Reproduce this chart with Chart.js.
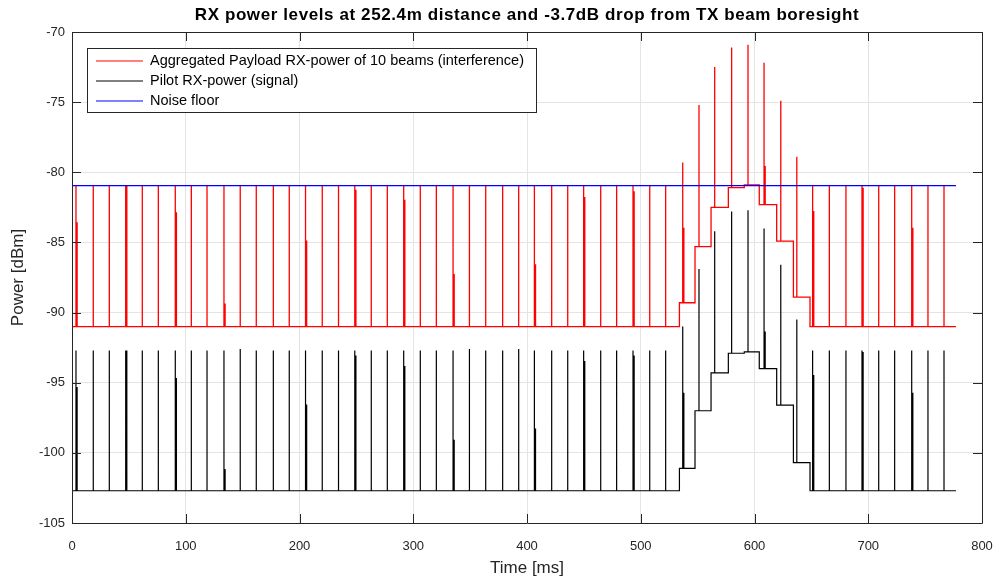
<!DOCTYPE html>
<html>
<head>
<meta charset="utf-8">
<title>RX power levels</title>
<script src="https://cdn.jsdelivr.net/npm/chart.js@4.4.1/dist/chart.umd.min.js"></script>
<style>
  html, body { margin: 0; padding: 0; background: #fff; }
  #wrap { width: 1000px; height: 579px; }
</style>
</head>
<body>
<div id="wrap"><canvas id="rx-chart" width="1000" height="579"></canvas></div>
<script>
/* RX power levels -- pilot vs aggregated payload vs noise floor */

// --- Data ---
// pulse times [ms], one per frame
const spikeTimes = [
  3.5, 18.7, 32.8, 47.2, 61.8, 75.9, 90.8, 104.9, 118.7, 133.6,
  147.9, 162.0, 177.0, 191.0, 205.3, 220.0, 234.3, 248.6, 263.1, 277.2,
  291.6, 306.2, 320.3, 335.0, 349.4, 363.7, 378.6, 392.7, 406.5, 421.7,
  435.8, 449.8, 464.8, 478.8, 493.2, 507.9, 521.9, 536.9, 551.2, 565.0,
  579.9, 594.3, 608.4, 623.1, 637.2, 651.1, 665.8, 680.4, 694.5, 709.2,
  723.2, 738.2, 752.5, 766.6
];
// pulse peaks [dBm]
const redPeaks = [
  -80.95, -80.95, -80.95, -80.95, -80.95, -80.95, -80.95, -80.95, -80.95, -80.95,
  -80.95, -80.95, -80.95, -80.95, -80.95, -80.95, -80.95, -80.95, -80.95, -80.95,
  -80.95, -80.95, -80.95, -80.95, -80.95, -80.95, -80.95, -80.95, -80.95, -80.95,
  -80.95, -80.95, -80.95, -80.95, -80.95, -80.95, -80.95, -79.3, -75.2, -72.5,
  -71.1, -70.9, -72.2, -74.9, -78.9, -80.95, -80.95, -80.95, -80.95, -80.95,
  -80.95, -80.95, -80.95, -80.95
];
const blackPeaks = [
  -92.7, -92.7, -92.7, -92.7, -92.7, -92.7, -92.7, -92.7, -92.7, -92.7,
  -92.6, -92.7, -92.7, -92.7, -92.7, -92.7, -92.7, -92.7, -92.7, -92.7,
  -92.7, -92.7, -92.7, -92.7, -92.6, -92.7, -92.7, -92.6, -92.7, -92.7,
  -92.7, -92.7, -92.7, -92.7, -92.7, -92.7, -92.7, -91.0, -86.9, -84.2,
  -82.8, -82.7, -84.0, -86.6, -90.5, -92.7, -92.7, -92.7, -92.7, -92.7,
  -92.7, -92.7, -92.7, -92.7
];
// doubled pulses (a second, lower pulse right after the main one)
const pairTimes = [3.5, 47.2, 90.8, 133.6, 205.3, 248.6, 291.6, 335.0, 406.5, 449.8, 493.2, 536.9, 608.4, 651.1, 694.5, 738.2];
const redPairLevels = [-83.6, -81.0, -82.9, -89.4, -84.9, -81.3, -82.0, -87.3, -86.6, -81.8, -81.4, -84.0, -79.6, -82.8, -81.15, -84.0];
const blackPairLevels = [-95.35, -92.75, -94.7, -101.2, -96.6, -93.1, -93.85, -99.1, -98.3, -93.5, -93.1, -95.75, -91.4, -94.5, -92.85, -95.75];
// baseline steps while the beam passes
const stepTimes = [0, 534.0, 547.7, 561.8, 577.0, 591.0, 604.2, 619.5, 634.2, 648.8];
const redBaseLevels = [-91.0, -89.3, -85.3, -82.5, -81.1, -80.9, -82.3, -84.9, -88.9, -91.0];
const blackBaseLevels = [-102.7, -101.1, -97.0, -94.3, -92.9, -92.8, -94.0, -96.6, -100.7, -102.7];
const endTime = 777.1;
// noise floor
const noiseTimes = [0, 777.1];
const noiseLevels = [-80.95, -80.95];
// axis ticks
const xTicks = [0, 100, 200, 300, 400, 500, 600, 700, 800];
const yTicks = [-105, -100, -95, -90, -85, -80, -75, -70];

const TITLE = 'RX power levels at 252.4m distance and -3.7dB drop from TX beam boresight';
const FONT = '"Liberation Sans", Arial, Helvetica, sans-serif';
const INK = '#262626';
const PAIR_WIDTH = 1.0; // ms

// --- Build step/pulse traces ---
function levelAt(t, levels) {
  let lv = levels[0];
  stepTimes.forEach((s, i) => { if (t >= s) lv = levels[i]; });
  return lv;
}

function buildTrace(peaks, pairLevels, baseLevels) {
  const events = [];
  stepTimes.forEach((s, i) => { if (i > 0) events.push({ t: s, step: i }); });
  spikeTimes.forEach((t, i) => events.push({ t, spike: i }));
  events.sort((a, b) => a.t - b.t);

  const pts = [{ x: 0, y: baseLevels[0] }];
  events.forEach(ev => {
    if (ev.step !== undefined) {
      pts.push({ x: ev.t, y: baseLevels[ev.step - 1] }, { x: ev.t, y: baseLevels[ev.step] });
      return;
    }
    const base = levelAt(ev.t, baseLevels);
    pts.push({ x: ev.t, y: base }, { x: ev.t, y: peaks[ev.spike] });
    const p = pairTimes.indexOf(ev.t);
    if (p >= 0) {
      pts.push({ x: ev.t, y: pairLevels[p] },
               { x: ev.t + PAIR_WIDTH, y: pairLevels[p] },
               { x: ev.t + PAIR_WIDTH, y: base });
    } else {
      pts.push({ x: ev.t, y: base });
    }
  });
  pts.push({ x: endTime, y: levelAt(endTime, baseLevels) });
  return pts;
}

// --- Plugins: title, axes box with inward ticks, legend box ---
const titlePlugin = {
  id: 'plotTitle',
  afterDraw(chart) {
    const { ctx, chartArea } = chart;
    ctx.save();
    ctx.fillStyle = '#000';
    ctx.font = 'bold 17px ' + FONT;
    ctx.letterSpacing = '0.6px';
    ctx.textAlign = 'center';
    ctx.textBaseline = 'middle';
    ctx.fillText(TITLE, (chartArea.left + chartArea.right) / 2, 15);
    ctx.restore();
  }
};

const framePlugin = {
  id: 'axesBox',
  afterDatasetsDraw(chart) {
    const { ctx, chartArea: a, scales } = chart;
    const len = 9;
    ctx.save();
    ctx.strokeStyle = INK;
    ctx.lineWidth = 1;
    ctx.beginPath();
    ctx.rect(Math.round(a.left) + 0.5, Math.round(a.top) + 0.5, Math.round(a.right - a.left), Math.round(a.bottom - a.top));
    xTicks.forEach(v => {
      const x = Math.round(scales.x.getPixelForValue(v)) + 0.5;
      ctx.moveTo(x, a.bottom); ctx.lineTo(x, a.bottom - len);
      ctx.moveTo(x, a.top); ctx.lineTo(x, a.top + len);
    });
    yTicks.forEach(v => {
      const y = Math.round(scales.y.getPixelForValue(v)) + 0.5;
      ctx.moveTo(a.left, y); ctx.lineTo(a.left + len, y);
      ctx.moveTo(a.right, y); ctx.lineTo(a.right - len, y);
    });
    ctx.stroke();
    ctx.restore();
  }
};

const legendPlugin = {
  id: 'boxLegend',
  afterDatasetsDraw(chart) {
    const { ctx } = chart;
    const box = { x: 87.5, y: 48.5, w: 449, h: 64 };
    ctx.save();
    ctx.fillStyle = '#fff';
    ctx.fillRect(box.x, box.y, box.w, box.h);
    ctx.strokeStyle = INK;
    ctx.lineWidth = 1;
    ctx.strokeRect(box.x, box.y, box.w, box.h);
    ctx.font = '14.5px ' + FONT;
    ctx.textBaseline = 'middle';
    ctx.textAlign = 'left';
    chart.data.datasets.forEach((ds, i) => {
      const y = 61 + i * 20;
      ctx.strokeStyle = ds.borderColor;
      ctx.lineWidth = 1;
      ctx.beginPath();
      ctx.moveTo(96, y); ctx.lineTo(143, y);
      ctx.stroke();
      ctx.fillStyle = '#000';
      ctx.fillText(ds.label, 150, y);
    });
    ctx.restore();
  }
};

// --- Chart ---
const tickFont = { family: FONT, size: 13 };
const labelFont = { family: FONT, size: 17 };

new Chart(document.getElementById('rx-chart').getContext('2d'), {
  type: 'line',
  data: {
    datasets: [
      {
        label: 'Aggregated Payload RX-power of 10 beams (interference)',
        data: buildTrace(redPeaks, redPairLevels, redBaseLevels),
        borderColor: '#ff0000', borderWidth: 1.3, order: 2
      },
      {
        label: 'Pilot RX-power (signal)',
        data: buildTrace(blackPeaks, blackPairLevels, blackBaseLevels),
        borderColor: '#000000', borderWidth: 1.2, order: 1
      },
      {
        label: 'Noise floor',
        data: noiseTimes.map((t, i) => ({ x: t, y: noiseLevels[i] })),
        borderColor: '#0000ff', borderWidth: 1.3, order: 0
      }
    ]
  },
  options: {
    responsive: false,
    animation: false,
    events: [],
    layout: { padding: { top: 32, right: 18, left: 0, bottom: 0 } },
    elements: {
      point: { radius: 0 },
      line: { tension: 0, borderWidth: 1.2, fill: false }
    },
    plugins: { legend: { display: false }, tooltip: { enabled: false } },
    scales: {
      x: {
        type: 'linear', min: 0, max: 800,
        afterBuildTicks: s => { s.ticks = xTicks.map(v => ({ value: v })); },
        afterFit: s => { s.height = 56; s.paddingLeft = 0; s.paddingRight = 0; },
        grid: { color: '#e4e4e4', drawTicks: false },
        border: { display: false },
        ticks: { padding: 16, color: INK, font: tickFont, maxRotation: 0 },
        title: { display: true, text: 'Time [ms]', color: INK, font: labelFont, padding: { top: 0, bottom: 0.8 } }
      },
      y: {
        type: 'linear', min: -105, max: -70,
        afterBuildTicks: s => { s.ticks = yTicks.map(v => ({ value: v })); },
        afterFit: s => { s.width = 72; },
        grid: { color: '#e4e4e4', drawTicks: false },
        border: { display: false },
        ticks: { padding: 7, color: INK, font: tickFont },
        title: { display: true, text: 'Power [dBm]', color: INK, font: labelFont, padding: { top: 7.8, bottom: 0 } }
      }
    }
  },
  plugins: [framePlugin, legendPlugin, titlePlugin]
});
</script>
</body>
</html>
